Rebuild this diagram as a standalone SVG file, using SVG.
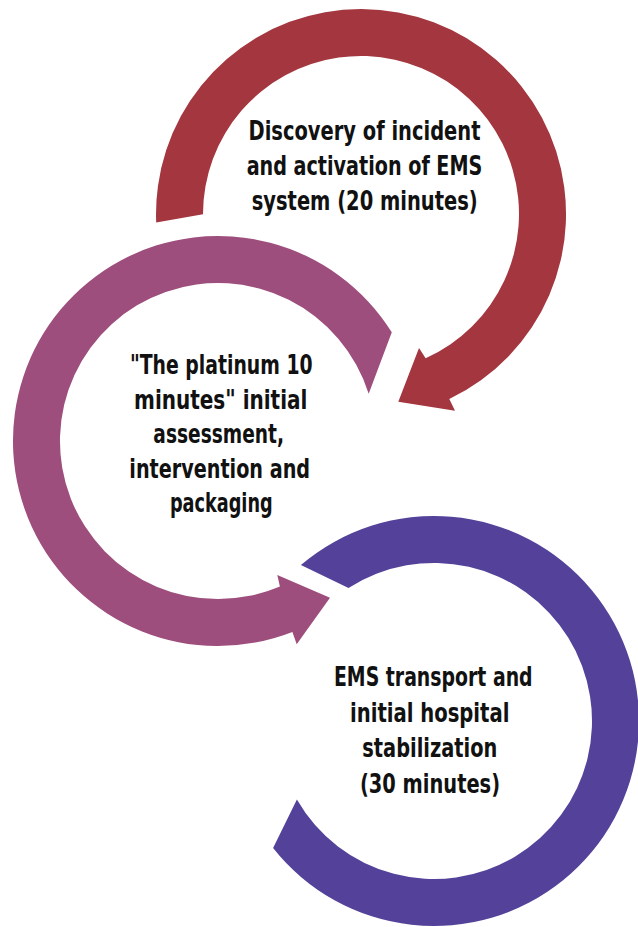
<svg xmlns="http://www.w3.org/2000/svg" width="638" height="927" viewBox="0 0 638 927">
  <style>
    .lbl { font-family: "Liberation Sans Narrow", "DejaVu Sans Condensed", "Liberation Sans", sans-serif; font-size: 26px; font-weight: bold; fill: #111111; text-anchor: middle; }
    .red { fill: #A3363E; }
    .mag { fill: #9E4E7C; }
    .blue { fill: #54429A; }
  </style>
  <rect width="638" height="927" fill="#FFFFFF"/>
  <g id="connectors"></g>
  <g id="node-discovery">
    <path class="red" d="M 156.2 222.6 A 205 205 0 1 1 449.3 399.0 L 455 410.7 L 398.3 401.7 L 419 348 L 425.6 358.2 A 158 158 0 1 0 203 214.3 Z"/>
    <text class="lbl" x="364.5" y="140" textLength="232" lengthAdjust="spacingAndGlyphs">Discovery of incident</text>
    <text class="lbl" x="364.5" y="175" textLength="235.7" lengthAdjust="spacingAndGlyphs">and activation of EMS</text>
    <text class="lbl" x="364.7" y="210" textLength="226" lengthAdjust="spacingAndGlyphs">system (20 minutes)</text>
  </g>
  <g id="node-platinum">
    <path class="mag" d="M 391.8 332.3 A 205 205 0 1 0 292.4 632.0 L 296.7 644.3 L 330 597.7 L 277.3 575 L 279.9 586.4 A 158 158 0 1 1 368.7 393.7 Z"/>
    <text class="lbl" x="221.3" y="374" textLength="182.7" lengthAdjust="spacingAndGlyphs">"The platinum 10</text>
    <text class="lbl" x="220.7" y="408.5" textLength="173.3" lengthAdjust="spacingAndGlyphs">minutes" initial</text>
    <text class="lbl" x="218.7" y="443" textLength="130.7" lengthAdjust="spacingAndGlyphs">assessment,</text>
    <text class="lbl" x="219.7" y="477.5" textLength="180.7" lengthAdjust="spacingAndGlyphs">intervention and</text>
    <text class="lbl" x="221.3" y="512" textLength="102.7" lengthAdjust="spacingAndGlyphs">packaging</text>
  </g>
  <g id="node-transport">
    <path class="blue" d="M 300.9 565.1 A 205 205 0 1 1 273.1 848.0 L 296.9 799.5 A 158 158 0 1 0 348.5 588.1 Z"/>
    <text class="lbl" x="433.3" y="686" textLength="198.7" lengthAdjust="spacingAndGlyphs">EMS transport and</text>
    <text class="lbl" x="429.7" y="721.5" textLength="159.3" lengthAdjust="spacingAndGlyphs">initial hospital</text>
    <text class="lbl" x="429.8" y="757" textLength="135" lengthAdjust="spacingAndGlyphs">stabilization</text>
    <text class="lbl" x="430" y="792.5" textLength="140" lengthAdjust="spacingAndGlyphs">(30 minutes)</text>
  </g>
</svg>
